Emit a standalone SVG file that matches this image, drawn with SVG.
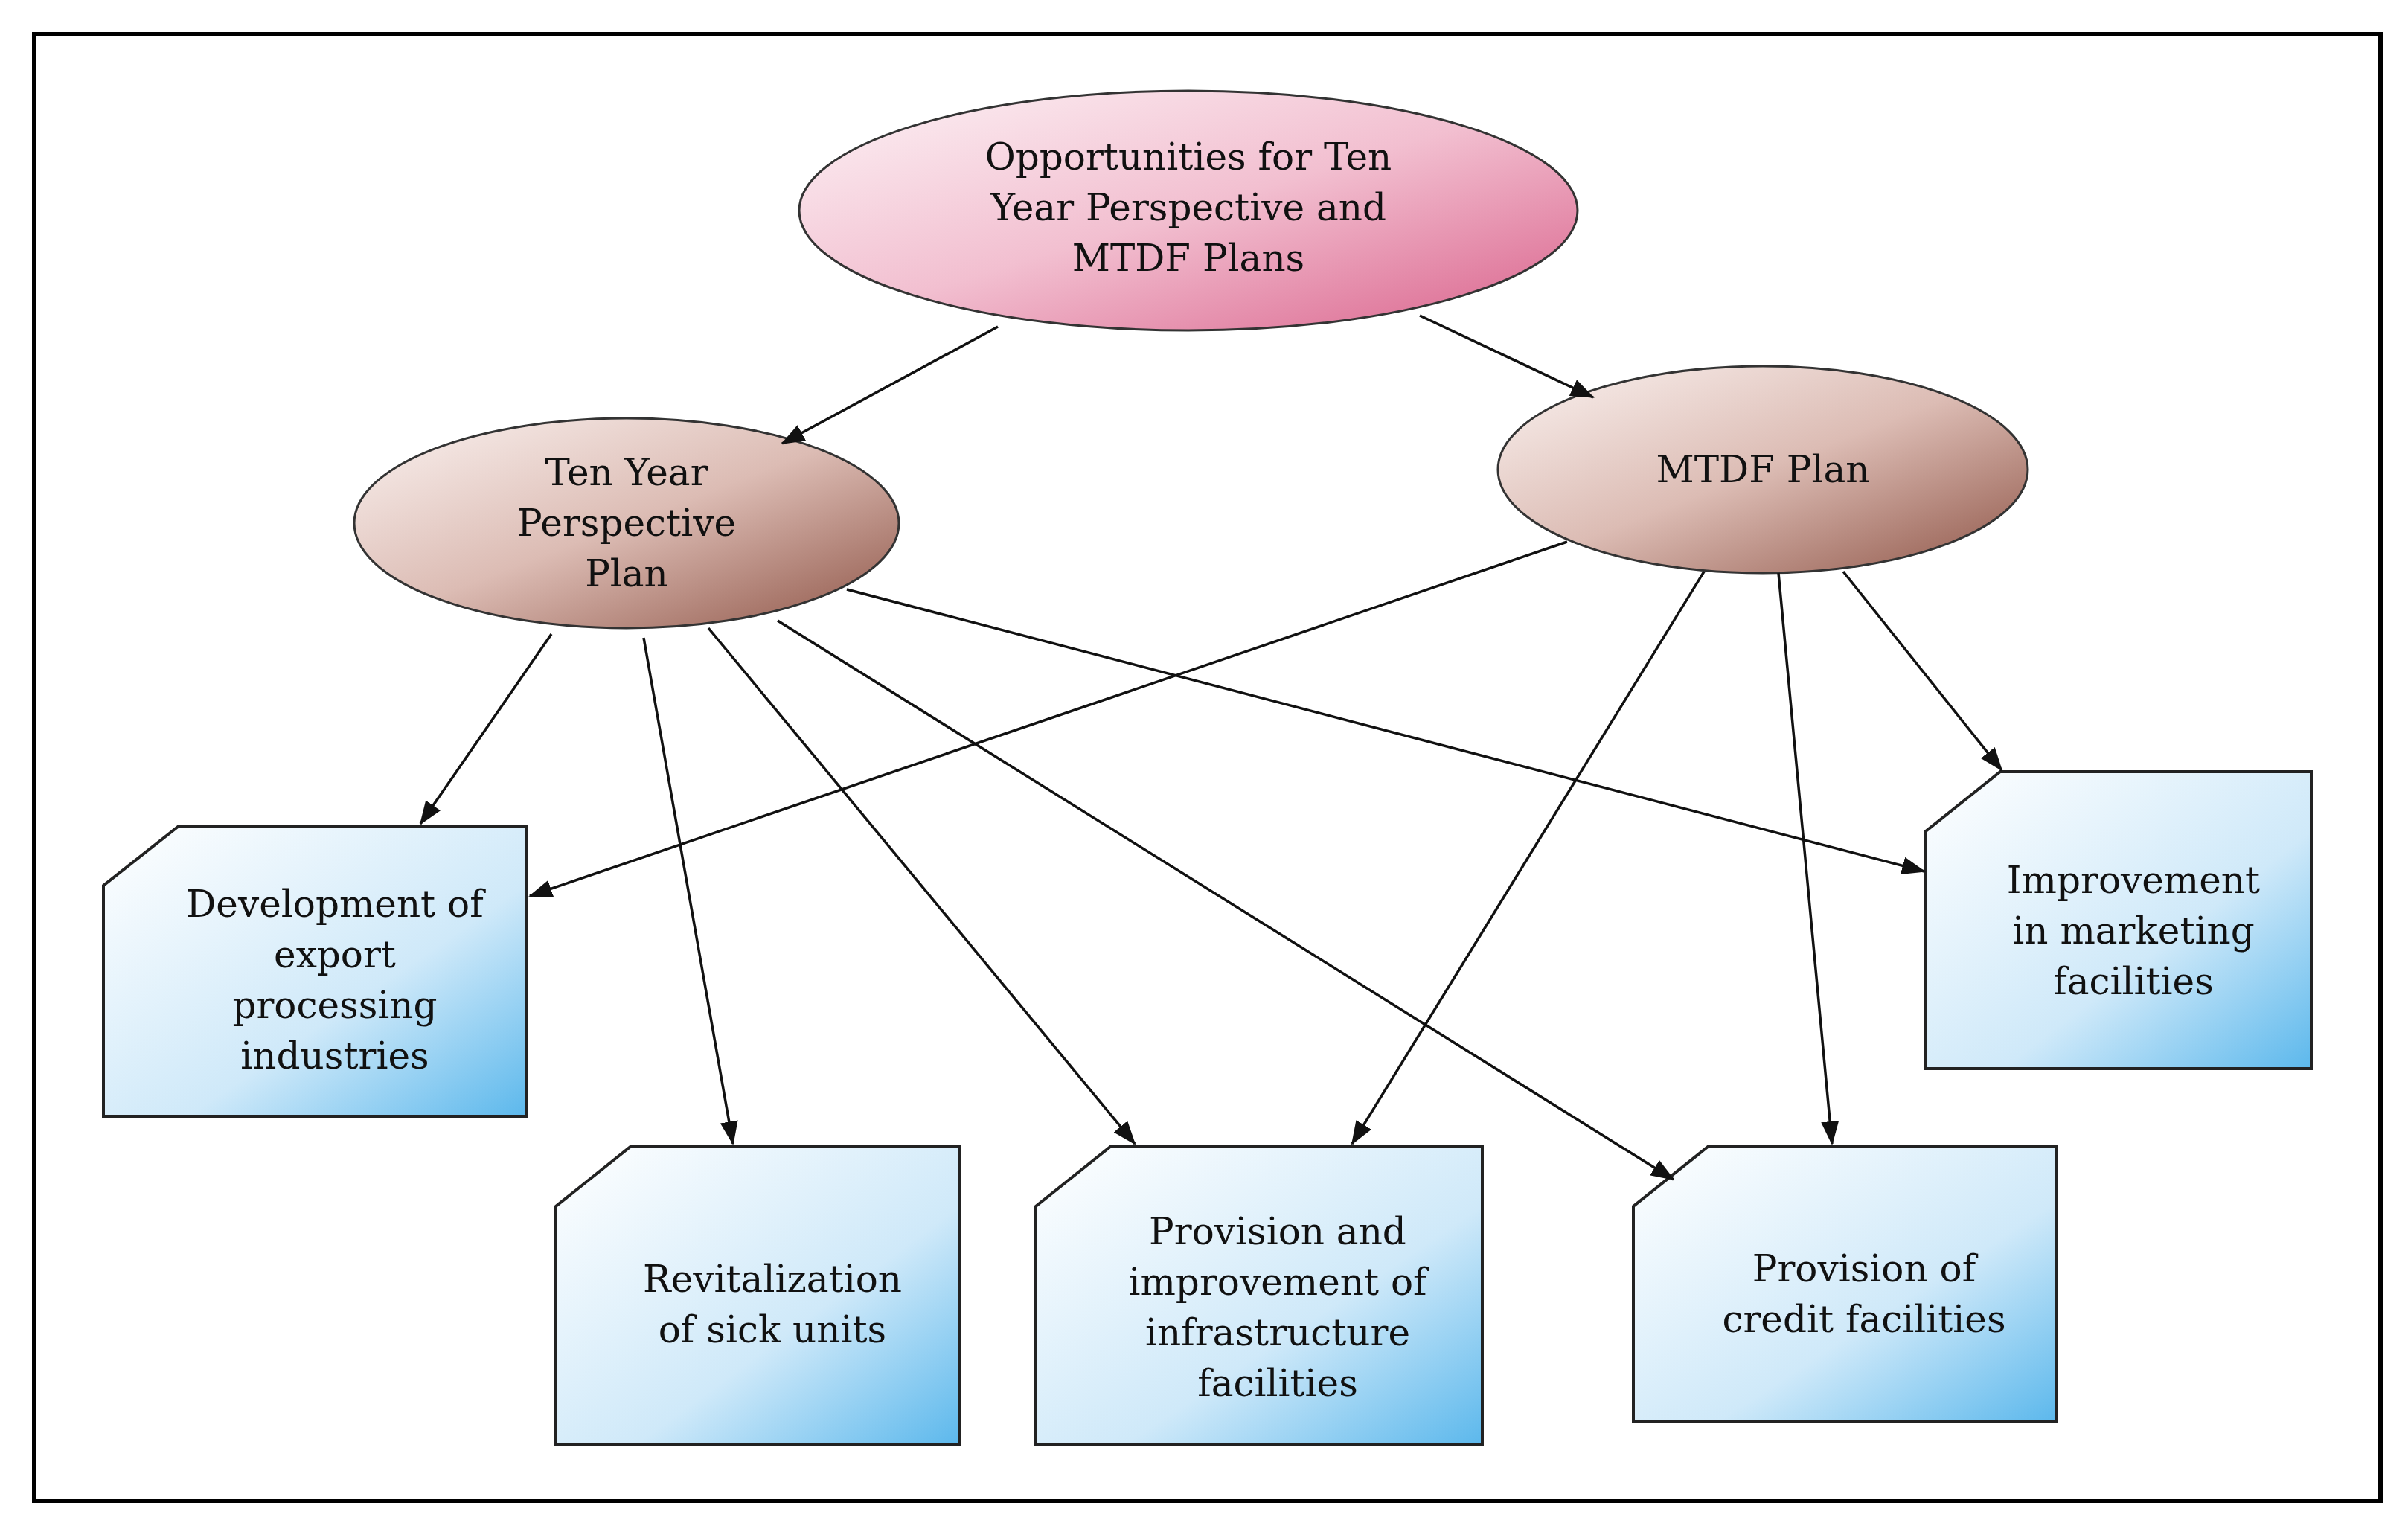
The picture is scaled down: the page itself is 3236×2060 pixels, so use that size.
<svg xmlns="http://www.w3.org/2000/svg" width="3236" height="2060" viewBox="0 0 3236 2060">
<defs>
<linearGradient id="gPink" x1="0" y1="0" x2="1" y2="1"><stop offset="0" stop-color="#fdf3f6"/><stop offset="0.5" stop-color="#f2bfd0"/><stop offset="1" stop-color="#d9608a"/></linearGradient>
<linearGradient id="gBrown" x1="0" y1="0" x2="1" y2="1"><stop offset="0" stop-color="#fbf3f1"/><stop offset="0.5" stop-color="#dcbcb4"/><stop offset="1" stop-color="#8e5446"/></linearGradient>
<linearGradient id="gBlue" x1="0" y1="0" x2="1" y2="1"><stop offset="0" stop-color="#ffffff"/><stop offset="0.6" stop-color="#cfe9f9"/><stop offset="1" stop-color="#5cb8ec"/></linearGradient>
<marker id="ah" markerWidth="32" markerHeight="24" refX="30" refY="12" orient="auto" markerUnits="userSpaceOnUse" viewBox="0 0 32 24"><path d="M0,0 L32,12 L0,24 z" fill="#111"/></marker>
</defs>
<style>
.e{stroke:#333;stroke-width:3}
.b{fill:url(#gBlue);stroke:#222;stroke-width:4}
.t{font-family:"DejaVu Serif",serif;font-size:50px;fill:#111;text-anchor:middle}
.c line{stroke:#111;stroke-width:3.5;marker-end:url(#ah)}
</style>
<rect width="3236" height="2060" fill="#fff"/>
<rect x="46" y="46" width="3153" height="1971" fill="none" stroke="#000" stroke-width="6"/>
<g id="n-top"><ellipse class="e" cx="1597" cy="283" rx="523" ry="161" fill="url(#gPink)"/>
<text class="t" x="1597" y="228">Opportunities for Ten</text><text class="t" x="1597" y="296">Year Perspective and</text><text class="t" x="1597" y="364">MTDF Plans</text></g>
<g id="n-ten"><ellipse class="e" cx="842" cy="703" rx="366" ry="141" fill="url(#gBrown)"/>
<text class="t" x="842" y="652">Ten Year</text><text class="t" x="842" y="720">Perspective</text><text class="t" x="842" y="788">Plan</text></g>
<g id="n-mtdf"><ellipse class="e" cx="2369" cy="631" rx="356" ry="139" fill="url(#gBrown)"/>
<text class="t" x="2369" y="648">MTDF Plan</text></g>
<g id="n-dev"><path class="b" d="M239,1111 H708 V1500 H139 V1190 Z"/>
<text class="t" x="450" y="1232">Development of</text><text class="t" x="450" y="1300">export</text><text class="t" x="450" y="1368">processing</text><text class="t" x="450" y="1436">industries</text></g>
<g id="n-rev"><path class="b" d="M847,1541 H1289 V1941 H747 V1621 Z"/>
<text class="t" x="1038" y="1736">Revitalization</text><text class="t" x="1038" y="1804">of sick units</text></g>
<g id="n-infra"><path class="b" d="M1492,1541 H1992 V1941 H1392 V1621 Z"/>
<text class="t" x="1717" y="1672">Provision and</text><text class="t" x="1717" y="1740">improvement of</text><text class="t" x="1717" y="1808">infrastructure</text><text class="t" x="1717" y="1876">facilities</text></g>
<g id="n-credit"><path class="b" d="M2295,1541 H2764 V1910 H2195 V1621 Z"/>
<text class="t" x="2505" y="1722">Provision of</text><text class="t" x="2505" y="1790">credit facilities</text></g>
<g id="n-impr"><path class="b" d="M2688,1037 H3106 V1436 H2588 V1117 Z"/>
<text class="t" x="2867" y="1200">Improvement</text><text class="t" x="2867" y="1268">in marketing</text><text class="t" x="2867" y="1336">facilities</text></g>
<g class="c" id="connectors">
<line x1="1341" y1="439" x2="1051" y2="596"/>
<line x1="1908" y1="424" x2="2141" y2="534"/>
<line x1="741" y1="852" x2="565" y2="1107"/>
<line x1="865" y1="857" x2="985" y2="1537"/>
<line x1="952" y1="844" x2="1525" y2="1537"/>
<line x1="1045" y1="834" x2="2249" y2="1585"/>
<line x1="1138" y1="792" x2="2586" y2="1171"/>
<line x1="2106" y1="728" x2="712" y2="1204"/>
<line x1="2290" y1="768" x2="1817" y2="1537"/>
<line x1="2390" y1="770" x2="2462" y2="1537"/>
<line x1="2477" y1="768" x2="2690" y2="1035"/>
</g>
</svg>
